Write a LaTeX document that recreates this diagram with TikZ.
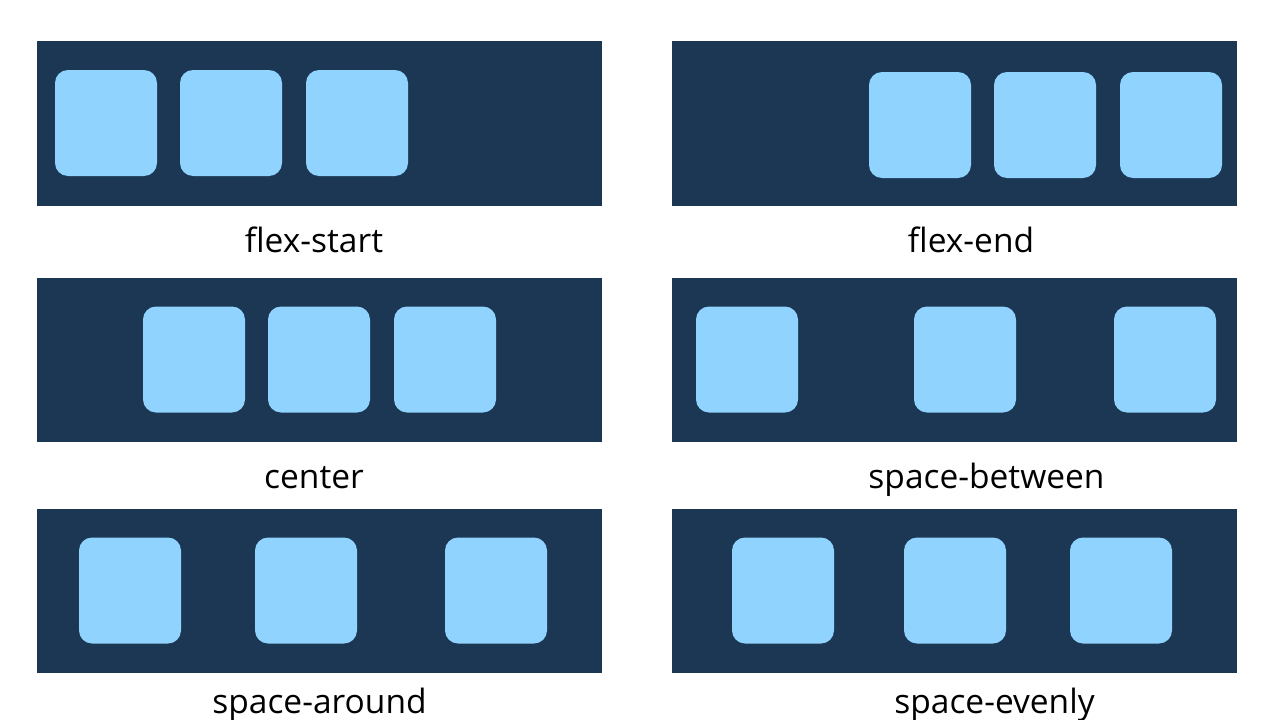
\documentclass[tikz,border=0pt]{standalone}
\usepackage{fontspec}
\setmainfont{Open Sans}
\definecolor{navy}{HTML}{1B3753}
\definecolor{sky}{HTML}{8FD3FE}
\begin{document}
\begin{tikzpicture}[x=1pt,y=-1pt,
  panel/.style={fill=navy,draw=none,inner sep=0pt},
  item/.style={fill=sky,draw=none,rounded corners=13pt,inner sep=0pt,minimum width=102pt,minimum height=106pt},
  lbl/.style={anchor=base,inner sep=0pt,font=\fontsize{33.5}{40}\selectfont,text=black}]
\useasboundingbox[fill=white] (0,0) rectangle (1280,720);
% panels
\node[panel,minimum width=565pt,minimum height=165pt] (p1) at (319.5,123.5) {};
\node[panel,minimum width=565pt,minimum height=165pt] (p2) at (954.5,123.5) {};
\node[panel,minimum width=565pt,minimum height=164pt] (p3) at (319.5,360) {};
\node[panel,minimum width=565pt,minimum height=164pt] (p4) at (954.5,360) {};
\node[panel,minimum width=565pt,minimum height=164pt] (p5) at (319.5,591) {};
\node[panel,minimum width=565pt,minimum height=164pt] (p6) at (954.5,591) {};
% flex-start
\node[item] (a1) at (106,123) {};
\node[item] (a2) at (231,123) {};
\node[item] (a3) at (357,123) {};
% flex-end
\node[item] (b1) at (920,125) {};
\node[item] (b2) at (1045,125) {};
\node[item] (b3) at (1171,125) {};
% center
\node[item] (c1) at (194,359.5) {};
\node[item] (c2) at (319,359.5) {};
\node[item] (c3) at (445,359.5) {};
% space-between
\node[item] (d1) at (747,359.5) {};
\node[item] (d2) at (965,359.5) {};
\node[item] (d3) at (1165,359.5) {};
% space-around
\node[item] (e1) at (130,590.5) {};
\node[item] (e2) at (306,590.5) {};
\node[item] (e3) at (496,590.5) {};
% space-evenly
\node[item] (f1) at (783,590.5) {};
\node[item] (f2) at (955,590.5) {};
\node[item] (f3) at (1121,590.5) {};
% labels
\node[lbl] (l1) at (314,252) {flex-start};
\node[lbl] (l2) at (971,252) {flex-end};
\node[lbl] (l3) at (314,488) {center};
\node[lbl] (l4) at (986.5,488) {space-between};
\node[lbl] (l5) at (319.5,713) {space-around};
\node[lbl] (l6) at (994.5,713) {space-evenly};
\end{tikzpicture}
\end{document}
